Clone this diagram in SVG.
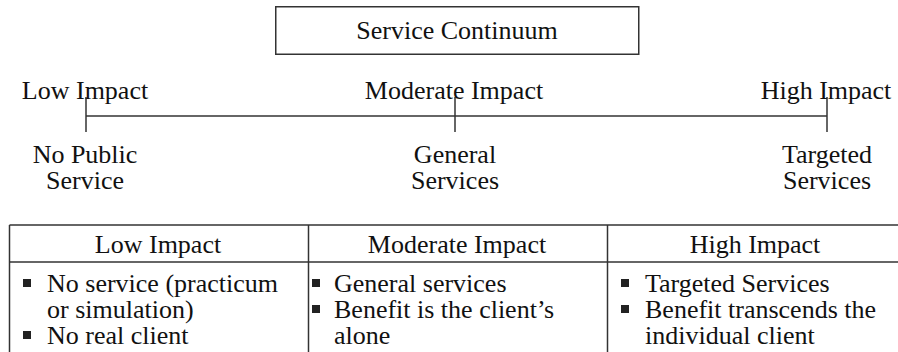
<svg xmlns="http://www.w3.org/2000/svg" width="898" height="352" viewBox="0 0 898 352">
  <style>
    text { font-family: "Liberation Serif", "Times New Roman", serif; font-size: 26px; fill: #111; }
    .c { text-anchor: middle; }
    .ln { stroke: #333; stroke-width: 1.5; fill: none; }
    .bul { fill: #222; }
  </style>
  <defs>
    <!-- square bullet used in the table lists -->
    <rect id="sq" width="8" height="8" class="bul"/>
  </defs>
  <rect width="898" height="352" fill="#fff"/>

  <!-- title box -->
  <g id="title">
    <rect x="275.75" y="6.75" width="363" height="47.5" class="ln"/>
    <text x="457" y="39" class="c">Service Continuum</text>
  </g>

  <!-- impact scale -->
  <g id="scale">
    <g id="connectors">
      <line x1="86" y1="116" x2="827" y2="116" class="ln"/>
      <line x1="86" y1="97" x2="86" y2="132" class="ln"/>
      <line x1="455" y1="97" x2="455" y2="132" class="ln"/>
      <line x1="827" y1="97" x2="827" y2="132" class="ln"/>
    </g>
    <g id="low">
      <text x="85" y="98.5" class="c">Low Impact</text>
      <text x="85" y="162.5" class="c">No Public</text>
      <text x="85" y="188.5" class="c">Service</text>
    </g>
    <g id="moderate">
      <text x="454" y="98.5" class="c">Moderate Impact</text>
      <text x="455" y="162.5" class="c">General</text>
      <text x="455" y="188.5" class="c">Services</text>
    </g>
    <g id="high">
      <text x="826" y="98.5" class="c">High Impact</text>
      <text x="827" y="162.5" class="c">Targeted</text>
      <text x="827" y="188.5" class="c">Services</text>
    </g>
  </g>

  <!-- comparison table -->
  <g id="table">
    <g class="ln">
      <line x1="9.5" y1="225" x2="898" y2="225"/>
      <line x1="9.5" y1="262" x2="898" y2="262"/>
      <line x1="9.5" y1="225" x2="9.5" y2="352"/>
      <line x1="308.5" y1="225" x2="308.5" y2="352"/>
      <line x1="607.5" y1="225" x2="607.5" y2="352"/>
    </g>
    <g id="col-low">
      <text x="158" y="253" class="c">Low Impact</text>
      <use href="#sq" x="23" y="279"/>
      <text x="47" y="292">No service (practicum</text>
      <text x="47" y="318">or simulation)</text>
      <use href="#sq" x="23" y="331"/>
      <text x="47" y="344">No real client</text>
    </g>
    <g id="col-moderate">
      <text x="457" y="253" class="c">Moderate Impact</text>
      <use href="#sq" x="312" y="279"/>
      <text x="334" y="292">General services</text>
      <use href="#sq" x="312" y="305"/>
      <text x="334" y="318">Benefit is the client’s</text>
      <text x="334" y="344">alone</text>
    </g>
    <g id="col-high">
      <text x="755" y="253" class="c">High Impact</text>
      <use href="#sq" x="621" y="279"/>
      <text x="645" y="292">Targeted Services</text>
      <use href="#sq" x="621" y="305"/>
      <text x="645" y="318">Benefit transcends the</text>
      <text x="645" y="344">individual client</text>
    </g>
  </g>
</svg>
